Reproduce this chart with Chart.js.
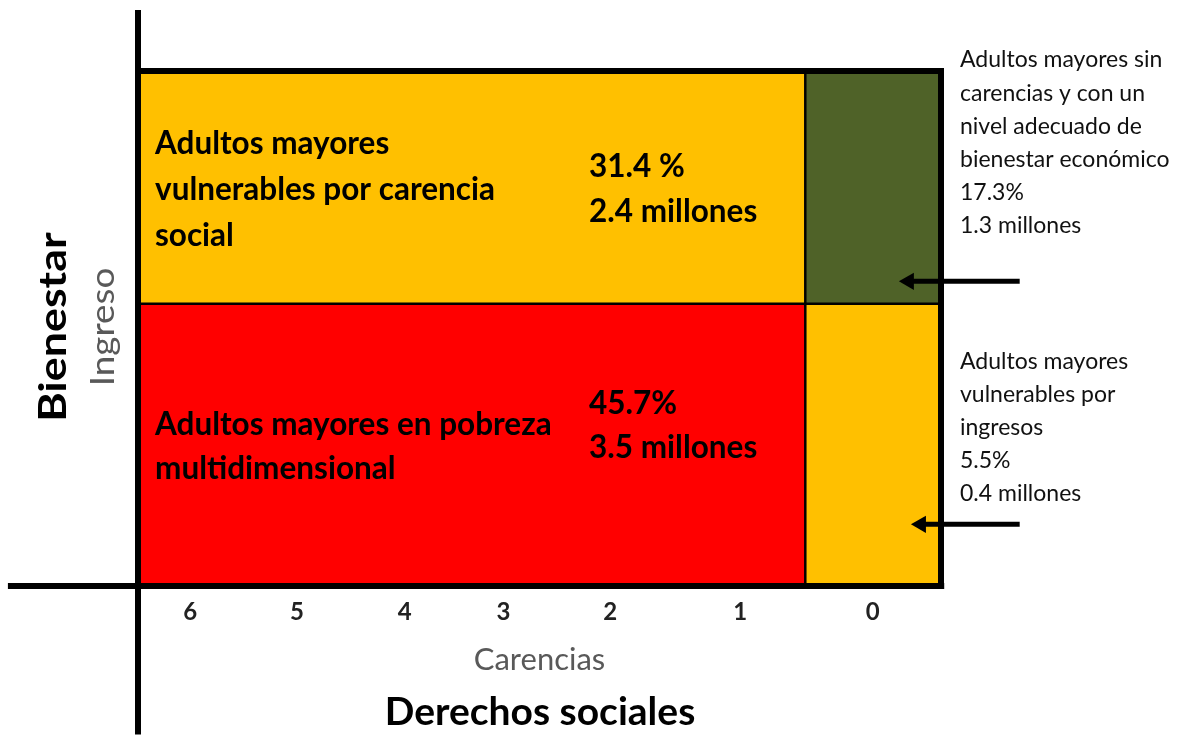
<!doctype html>
<html>
<head>
<title>Adultos mayores: bienestar y derechos sociales</title>
<script src="https://cdn.jsdelivr.net/npm/chart.js@4.4.0/dist/chart.umd.min.js"></script>
<style>
    html, body { margin: 0; padding: 0; background: #fff; }
    #wrap { width: 1177px; height: 735px; }
</style>
</head>

<body>
<div id="wrap"><canvas id="chart" width="1177" height="735"></canvas></div>

<script>
    // eje x: numero de carencias (de 6 a 0)
    const carencias = ['6', '5', '4', '3', '2', '1', '0'];
    const carenciasPos = [6.5, 19.8, 33.2, 45.5, 58.8, 75.0, 91.5];

    // limites de las zonas (x e y en % del area)
    const corteCarencias = 83.1;   // entre 1 y 0 carencias
    const lineaBienestar = 49.0;
    const techo = 89.4;

    const zonas = [
        ['Adultos mayores', 'vulnerables por carencia', 'social'],
        ['Adultos mayores en pobreza', 'multidimensional'],
        ['Adultos mayores sin', 'carencias y con un', 'nivel adecuado de', 'bienestar económico'],
        ['Adultos mayores', 'vulnerables por', 'ingresos']
    ];
    const porcentajes = ['31.4 %', '45.7%', '17.3%', '5.5%'];
    const millones = ['2.4 millones', '3.5 millones', '1.3 millones', '0.4 millones'];
    const colores = ['#FFC000', '#FF0000', '#4F6228', '#FFC000'];

    // caja de cada zona: [x0, x1, y0, y1]
    const cajas = [
        [0, corteCarencias, lineaBienestar, techo],
        [0, corteCarencias, 0, lineaBienestar],
        [corteCarencias, 100, lineaBienestar, techo],
        [corteCarencias, 100, 0, lineaBienestar]
    ];

    // flechas que apuntan a las zonas de la derecha: [cola x, punta x, y]
    const flechas = [[109.8, 96.0, 52.9], [109.8, 97.5, 10.7]];

    const FONT = 'Lato, "Open Sans", sans-serif';

    function linea(puntos, ancho) {
        return {
            type: 'line',
            data: puntos,
            borderColor: '#000',
            borderWidth: ancho,
            pointRadius: 0,
            fill: false,
            clip: false,
            borderJoinStyle: 'miter',
            order: 1
        };
    }

    const datasets = [];

    // rellenos de color
    cajas.forEach((c, i) => {
        datasets.push({
            type: 'line',
            label: zonas[i].join(' '),
            data: [{x: c[0], y: c[3]}, {x: c[1], y: c[3]}],
            borderWidth: 0,
            pointRadius: 0,
            backgroundColor: colores[i],
            fill: {value: c[2]},
            order: 5
        });
    });

    // divisiones internas
    datasets.push(linea([{x: corteCarencias, y: 0}, {x: corteCarencias, y: techo}], 2.5));
    datasets.push(linea([{x: 0, y: lineaBienestar}, {x: 100, y: lineaBienestar}], 2.5));
    // marco superior y derecho
    datasets.push(linea([{x: 0, y: techo}, {x: 100, y: techo}, {x: 100, y: 0}], 6));
    // ejes
    datasets.push(linea([{x: -16.2, y: 0}, {x: 100.4, y: 0}], 6));
    datasets.push(linea([{x: 0, y: 100}, {x: 0, y: -25.8}], 6));

    // flechas
    flechas.forEach(f => {
        datasets.push({
            type: 'line',
            data: [{x: f[0], y: f[2]}, {x: f[1], y: f[2]}],
            borderColor: '#000',
            backgroundColor: '#000',
            borderWidth: 5,
            pointStyle: 'triangle',
            pointRotation: -90,
            pointRadius: [0, 10],
            pointBorderWidth: 0,
            clip: false,
            order: 0
        });
    });

    // texto girado y estirado a lo largo
    function textoVertical(ctx, t, x, y, font, color, estirar) {
        ctx.save();
        ctx.translate(x, y);
        ctx.rotate(-Math.PI / 2);
        ctx.scale(estirar, 1);
        ctx.font = font;
        ctx.fillStyle = color;
        ctx.textAlign = 'center';
        ctx.fillText(t, 0, 0);
        ctx.restore();
    }

    const textos = {
        id: 'textos',
        afterDraw(chart) {
            const ctx = chart.ctx;
            ctx.save();
            ctx.textBaseline = 'middle';
            ctx.textAlign = 'left';
            ctx.fillStyle = '#000';

            // textos dentro de la caja
            ctx.font = 'bold 31.5px ' + FONT;
            zonas[0].forEach((t, i) => ctx.fillText(t, 155, 144 + i * 46));
            zonas[1].forEach((t, i) => ctx.fillText(t, 155, 425 + i * 44));
            ctx.fillText(porcentajes[0], 589, 167);
            ctx.fillText(millones[0], 589, 212);
            ctx.fillText(porcentajes[1], 589, 404);
            ctx.fillText(millones[1], 589, 448);

            // notas de la derecha
            ctx.fillStyle = '#111';
            ctx.font = '23px ' + FONT;
            zonas[2].concat([porcentajes[2], millones[2]]).forEach((t, i) => ctx.fillText(t, 960, 60 + i * 33.2));
            zonas[3].concat([porcentajes[3], millones[3]]).forEach((t, i) => ctx.fillText(t, 960, 362 + i * 32.8));

            // titulos
            ctx.textAlign = 'center';
            ctx.fillStyle = '#000';
            ctx.font = 'bold 39px ' + FONT;
            ctx.fillText('Derechos sociales', 540, 712);

            textoVertical(ctx, 'Bienestar', 54, 327, 'bold 38px ' + FONT, '#000', 1.18);
            textoVertical(ctx, 'Ingreso', 104, 327, '32px ' + FONT, '#595959', 1.15);

            ctx.restore();
        }
    };

    const ctx = document.getElementById('chart');
    const myChart = new Chart(ctx, {
        type: 'line',
        data: { datasets: datasets },
        options: {
            responsive: false,
            animation: false,
            layout: { padding: { left: 138, right: 236, top: 8, bottom: 0 } },
            plugins: {
                legend: { display: false },
                tooltip: { enabled: false }
            },
            scales: {
                x: {
                    type: 'linear',
                    min: 0,
                    max: 100,
                    grid: { display: false, drawTicks: false },
                    border: { display: false },
                    afterBuildTicks: scale => {
                        scale.ticks = carenciasPos.map(v => ({value: v}));
                    },
                    afterFit: scale => { scale.height = 149; },
                    ticks: {
                        autoSkip: false,
                        maxRotation: 0,
                        padding: 12,
                        color: '#222',
                        font: { family: FONT, size: 24, weight: 'bold' },
                        callback: (v, i) => carencias[i]
                    },
                    title: {
                        display: true,
                        text: 'Carencias',
                        color: '#595959',
                        font: { family: FONT, size: 31 },
                        padding: { top: 0, bottom: 56 }
                    }
                },
                y: {
                    display: false,
                    min: 0,
                    max: 100
                }
            }
        },
        plugins: [textos]
    });
</script>

</body>
</html>
